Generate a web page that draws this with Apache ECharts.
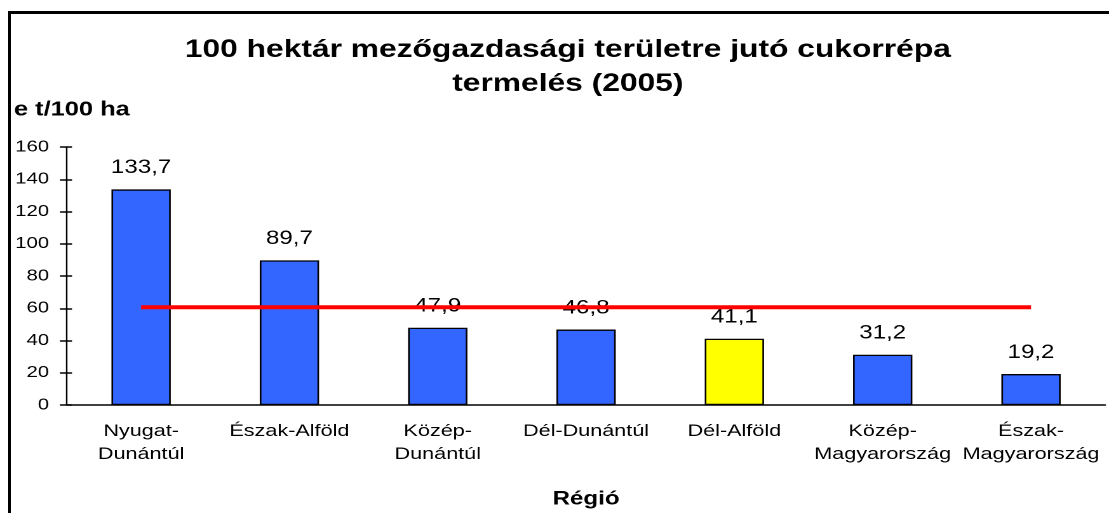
<!DOCTYPE html>
<html>
<head>
<meta charset="utf-8">
<script src="https://cdn.jsdelivr.net/npm/echarts@6/dist/echarts.min.js"></script>
<style>
  html, body { margin: 0; padding: 0; background: #fff; overflow: hidden; }
  #frame { position: absolute; left: 8px; top: 11px; width: 1200px; height: 600px;
           border-left: 3px solid #000; border-top: 3px solid #000; }
  /* the original picture is stretched horizontally, so the chart is drawn narrower and widened */
  #chart { position: absolute; left: 0; top: 0; width: 873px; height: 513px;
           transform: scaleX(1.2703); transform-origin: 0 0; }
</style>
</head>
<body>
<div id="frame"></div>
<div id="chart"></div>
<script>
// regions, 2005
const regions = ['Nyugat-\nDunántúl', 'Észak-Alföld', 'Közép-\nDunántúl', 'Dél-Dunántúl',
                 'Dél-Alföld', 'Közép-\nMagyarország', 'Észak-\nMagyarország'];
const production = [133.7, 89.7, 47.9, 46.8, 41.1, 31.2, 19.2];
const highlighted = 'Dél-Alföld';
const nationalAvg = [60.6, 60.6, 60.6, 60.6, 60.6, 60.6, 60.6];
const yTicks = {min: 0, max: 160, interval: 20};

const font = 'Liberation Sans, Arial, sans-serif';
let chart = echarts.init(document.getElementById('chart'), null, {devicePixelRatio: 2});

let barData = production.map((v, i) => ({
    value: v,
    itemStyle: {color: regions[i] === highlighted ? '#ffff00' : '#3366ff'}
}));

let option = {
    animation: false,
    backgroundColor: 'transparent',
    title: {
        text: '100 hektár mezőgazdasági területre jutó cukorrépa\ntermelés (2005)',
        left: 442,
        top: 28,
        textAlign: 'center',
        textStyle: {fontFamily: font, fontSize: 25, fontWeight: 'bold', color: '#000', lineHeight: 34}
    },
    graphic: [{
        type: 'text',
        left: 11,
        top: 100,
        style: {text: 'e t/100 ha', font: 'bold 20px ' + font, fill: '#000'}
    }],
    grid: {left: 52.7, right: 3, top: 147, bottom: 108, containLabel: false, outerBoundsMode: 'none'},
    xAxis: {
        type: 'category',
        data: regions,
        name: 'Régió',
        nameLocation: 'middle',
        nameGap: 85,
        nameTextStyle: {fontFamily: font, fontSize: 19, fontWeight: 'bold', color: '#000'},
        axisLine: {lineStyle: {color: '#000', width: 1.5}},
        axisTick: {length: 6, lineStyle: {color: '#000', width: 1.2}},
        axisLabel: {fontFamily: font, fontSize: 17, color: '#000', lineHeight: 23, margin: 15, interval: 0}
    },
    yAxis: [{
        type: 'value',
        min: yTicks.min, max: yTicks.max, interval: yTicks.interval,
        axisLine: {show: true, lineStyle: {color: '#000', width: 1.2}},
        axisTick: {show: true, length: 5.5, lineStyle: {color: '#000', width: 1.5}},
        axisLabel: {fontFamily: font, fontSize: 16, color: '#000', margin: 14},
        splitLine: {show: false}
    }, {
        type: 'value',
        position: 'left',
        min: yTicks.min, max: yTicks.max, interval: yTicks.interval,
        axisLine: {show: false},
        axisTick: {show: true, inside: true, length: 4, lineStyle: {color: '#000', width: 1.5}},
        axisLabel: {show: false},
        splitLine: {show: false}
    }],
    series: [{
        type: 'bar',
        data: barData,
        barWidth: '40%',
        itemStyle: {borderColor: '#000', borderWidth: 1.3},
        label: {
            show: true,
            position: 'top',
            distance: 12,
            fontFamily: font,
            fontSize: 19,
            color: '#000',
            formatter: p => String(p.value).replace('.', ',')
        }
    }, {
        type: 'line',
        data: nationalAvg,
        symbol: 'none',
        lineStyle: {color: '#ff0000', width: 4},
        z: 3
    }]
};

chart.setOption(option);
</script>
</body>
</html>
